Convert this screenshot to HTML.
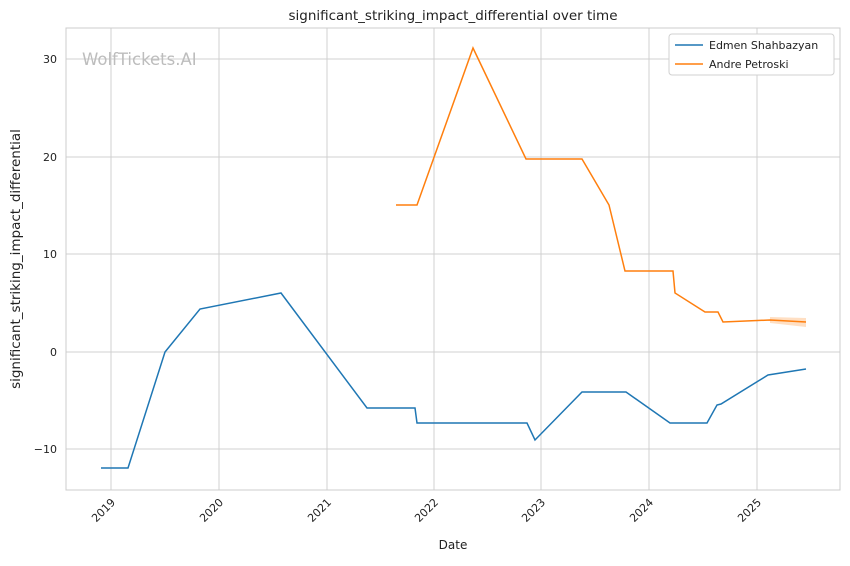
<!DOCTYPE html>
<html><head><meta charset="utf-8"><style>body{margin:0;background:#fff}</style></head><body>
<svg width="850" height="561" xmlns="http://www.w3.org/2000/svg" font-family="DejaVu Sans, Liberation Sans, sans-serif">
<rect width="850" height="561" fill="#fff"/>
<g stroke="#d0d0d0" stroke-width="1">
<line x1="111" y1="28" x2="111" y2="490"/><line x1="219" y1="28" x2="219" y2="490"/><line x1="327" y1="28" x2="327" y2="490"/><line x1="434" y1="28" x2="434" y2="490"/><line x1="541" y1="28" x2="541" y2="490"/><line x1="649" y1="28" x2="649" y2="490"/><line x1="757" y1="28" x2="757" y2="490"/>
<line x1="66" y1="59" x2="840" y2="59"/><line x1="66" y1="157" x2="840" y2="157"/><line x1="66" y1="254" x2="840" y2="254"/><line x1="66" y1="352" x2="840" y2="352"/><line x1="66" y1="449" x2="840" y2="449"/>
</g>
<rect x="66" y="28" width="774" height="462" fill="none" stroke="#cccccc"/>
<text x="82" y="65" font-size="16.5" fill="#bdbdbd">WolfTickets.AI</text>
<polygon points="770,317 806,318 806,327 770,323" fill="#ff7f0e" opacity="0.25"/>
<polyline fill="none" stroke="#1f77b4" stroke-width="1.5" points="101,468 128,468 165,352 200,309 281,293 367,408 415,408 417,423 527,423 535,440 582,392 626,392 670,423 707,423 717,405 721,404 768,375 806,369"/>
<polyline fill="none" stroke="#ff7f0e" stroke-width="1.5" points="396,205 417,205 473,48 526,159 582,159 609,205 625,271 673,271 675,293 705,312 718,312 723,322 770,320 806,322"/>
<g font-size="11" fill="#222" text-anchor="end">
<text x="57" y="63">30</text><text x="57" y="161">20</text><text x="57" y="258">10</text><text x="57" y="356">0</text><text x="57" y="453">−10</text>
</g>
<g font-size="11" fill="#222" text-anchor="end">
<text transform="translate(116,503) rotate(-45)">2019</text>
<text transform="translate(224,503) rotate(-45)">2020</text>
<text transform="translate(332,503) rotate(-45)">2021</text>
<text transform="translate(439,503) rotate(-45)">2022</text>
<text transform="translate(546,503) rotate(-45)">2023</text>
<text transform="translate(654,503) rotate(-45)">2024</text>
<text transform="translate(762,503) rotate(-45)">2025</text>
</g>
<text x="453" y="549" font-size="12" fill="#222" text-anchor="middle">Date</text>
<text transform="translate(20,259) rotate(-90)" font-size="13.5" fill="#222" text-anchor="middle">significant_striking_impact_differential</text>
<text x="453" y="20" font-size="13.5" fill="#222" text-anchor="middle">significant_striking_impact_differential over time</text>
<rect x="669" y="34" width="165" height="41" rx="3" fill="#fff" stroke="#d0d0d0"/>
<line x1="675" y1="45" x2="703" y2="45" stroke="#1f77b4" stroke-width="1.5"/>
<line x1="675" y1="64" x2="703" y2="64" stroke="#ff7f0e" stroke-width="1.5"/>
<text x="709" y="49" font-size="11" fill="#222">Edmen Shahbazyan</text>
<text x="709" y="68" font-size="11" fill="#222">Andre Petroski</text>
</svg>
</body></html>
